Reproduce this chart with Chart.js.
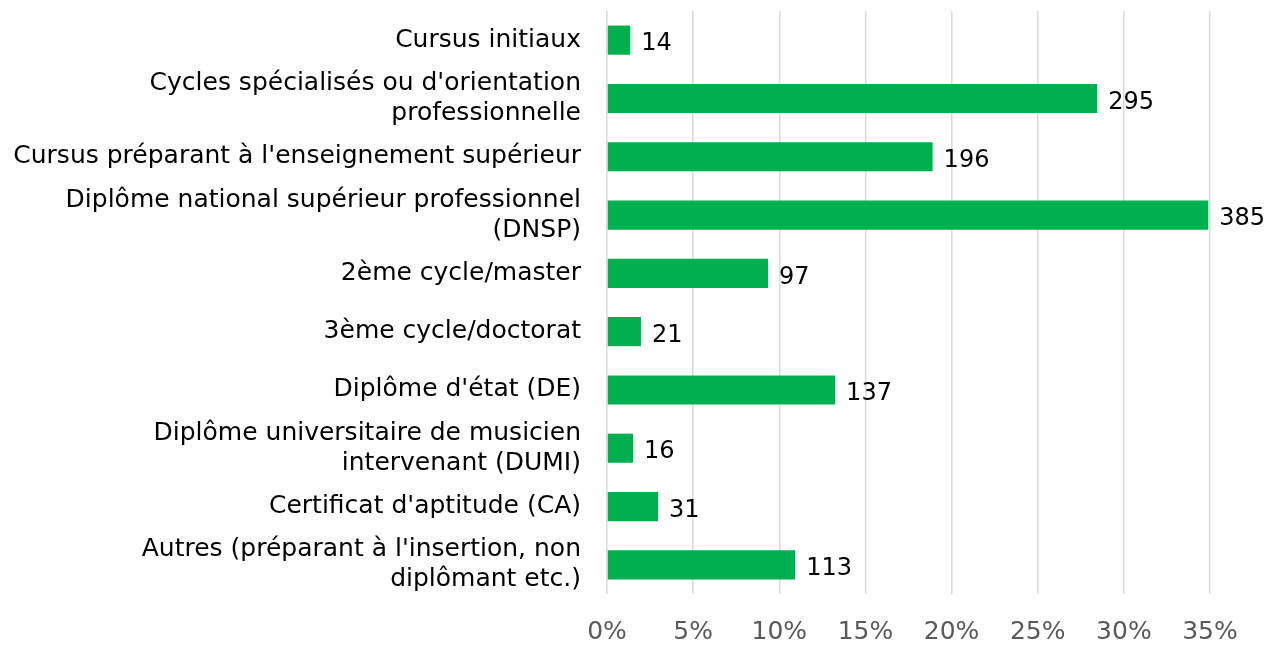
<!DOCTYPE html>
<html>
<head>
<meta charset="utf-8">
<script src="https://cdn.jsdelivr.net/npm/chart.js@4.4.1/dist/chart.umd.min.js"></script>
<style>
  html, body { margin: 0; padding: 0; background: #ffffff; }
  #wrap { width: 1265px; height: 645px; position: relative; }
</style>
</head>
<body>
<div id="wrap"><canvas id="c"></canvas></div>
<script>
const categories = [
  "Cursus initiaux",
  ["Cycles spécialisés ou d'orientation", "professionnelle"],
  "Cursus préparant à l'enseignement supérieur",
  ["Diplôme national supérieur professionnel", "(DNSP)"],
  "2ème cycle/master",
  "3ème cycle/doctorat",
  "Diplôme d'état (DE)",
  ["Diplôme universitaire de musicien", "intervenant (DUMI)"],
  "Certificat d'aptitude (CA)",
  ["Autres (préparant à l'insertion, non", "diplômant etc.)"]
];
const percentValues = [1.35, 28.45, 18.9, 34.9, 9.35, 1.97, 13.24, 1.51, 2.96, 10.92];
const countLabels = [14, 295, 196, 385, 97, 21, 137, 16, 31, 113];
const tickLabels = ["0%", "5%", "10%", "15%", "20%", "25%", "30%", "35%"];

const FONT = "'DejaVu Sans', sans-serif";

const dataLabelPlugin = {
  id: 'countLabels',
  afterDatasetsDraw(chart) {
    const ctx = chart.ctx;
    const meta = chart.getDatasetMeta(0);
    ctx.save();
    ctx.font = "24px " + FONT;
    ctx.fillStyle = "#000000";
    ctx.textAlign = "left";
    ctx.textBaseline = "middle";
    meta.data.forEach((bar, i) => {
      ctx.fillText(String(countLabels[i]), bar.x + 11, bar.y + 4);
    });
    ctx.restore();
  }
};

new Chart(document.getElementById('c'), {
  type: 'bar',
  data: {
    labels: categories,
    datasets: [{
      data: percentValues,
      backgroundColor: '#00B050',
      borderWidth: 0,
      categoryPercentage: 1,
      barPercentage: 0.5
    }]
  },
  options: {
    indexAxis: 'y',
    responsive: true,
    maintainAspectRatio: false,
    animation: false,
    layout: { padding: { top: 11, right: 55, bottom: 0, left: 0 } },
    plugins: { legend: { display: false }, tooltip: { enabled: false } },
    scales: {
      x: {
        min: 0,
        max: 35,
        ticks: {
          stepSize: 5,
          color: '#595959',
          font: { family: FONT, size: 25 },
          padding: 23,
          maxRotation: 0,
          autoSkip: false,
          callback: (v, i) => tickLabels[i]
        },
        grid: { color: '#d9d9d9', lineWidth: 1.5, drawTicks: false },
        border: { display: false },
        afterFit(scale) { scale.height = 51; scale.paddingLeft = 0; scale.paddingRight = 0; }
      },
      y: {
        ticks: {
          color: '#000000',
          font: { family: FONT, size: 25, lineHeight: 1.2 },
          padding: 18,
          autoSkip: false
        },
        grid: { display: false },
        border: { display: false },
        afterFit(scale) { scale.width = 607; scale.paddingTop = 0; scale.paddingBottom = 0; }
      }
    }
  },
  plugins: [dataLabelPlugin]
});
</script>
</body>
</html>
